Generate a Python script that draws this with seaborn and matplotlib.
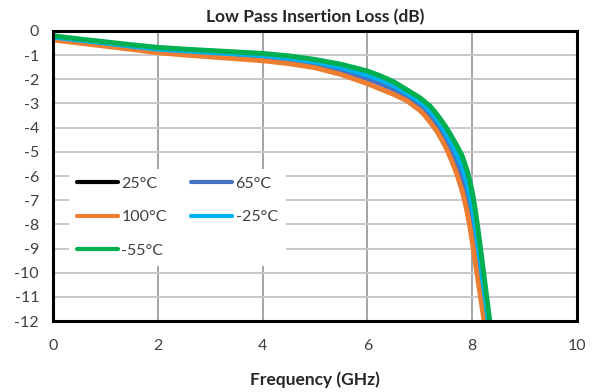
import matplotlib
matplotlib.use("Agg")
import matplotlib.pyplot as plt
import seaborn as sns
import pandas as pd

# Frequency points (GHz) shared by all temperature traces
freq_ghz = [0, 0.5, 1, 1.5, 2, 2.5, 3, 3.5, 4, 4.5, 5, 5.5, 6, 6.25, 6.5, 6.75,
            7.0, 7.1, 7.2, 7.3, 7.4, 7.5, 7.6, 7.7, 7.8, 7.85, 7.9, 7.95,
            8.0, 8.05, 8.1, 8.15, 8.2, 8.25, 8.3, 8.35, 8.4]

# Insertion loss (dB) per temperature
loss_25 = [-0.28, -0.41, -0.53, -0.66, -0.78, -0.86, -0.93, -1.00, -1.07, -1.17,
           -1.33, -1.57, -1.89, -2.10, -2.33, -2.63, -2.99, -3.19, -3.42, -3.69,
           -4.01, -4.36, -4.78, -5.24, -5.77, -6.12, -6.52, -7.00, -7.58, -8.24,
           -8.98, -9.76, -10.56, -11.35, -12.14, -12.93, -13.72]
loss_65 = [-0.30, -0.43, -0.56, -0.68, -0.81, -0.89, -0.97, -1.04, -1.11, -1.22,
           -1.38, -1.63, -1.97, -2.18, -2.41, -2.70, -3.07, -3.28, -3.52, -3.79,
           -4.12, -4.49, -4.93, -5.42, -5.98, -6.35, -6.77, -7.28, -7.88, -8.56,
           -9.30, -10.07, -10.84, -11.61, -12.38, -13.16, -13.93]
loss_100 = [-0.37, -0.50, -0.63, -0.76, -0.90, -0.99, -1.07, -1.15, -1.23, -1.35,
            -1.52, -1.80, -2.18, -2.40, -2.62, -2.88, -3.28, -3.50, -3.78, -4.06,
            -4.42, -4.83, -5.32, -5.88, -6.55, -6.97, -7.45, -8.02, -8.70, -9.42,
            -10.15, -10.88, -11.60, -12.32, -13.04, -13.76, -14.48]
loss_m25 = [-0.25, -0.38, -0.50, -0.63, -0.75, -0.82, -0.89, -0.95, -1.02, -1.13,
            -1.28, -1.51, -1.82, -2.02, -2.26, -2.57, -2.92, -3.11, -3.32, -3.58,
            -3.90, -4.24, -4.63, -5.07, -5.56, -5.89, -6.27, -6.72, -7.27, -7.92,
            -8.67, -9.46, -10.27, -11.08, -11.89, -12.70, -13.51]
loss_m55 = [-0.20, -0.33, -0.45, -0.57, -0.68, -0.75, -0.81, -0.87, -0.93, -1.03,
            -1.18, -1.38, -1.66, -1.86, -2.10, -2.43, -2.76, -2.94, -3.12, -3.38,
            -3.67, -3.98, -4.34, -4.72, -5.13, -5.43, -5.76, -6.16, -6.66, -7.28,
            -8.03, -8.85, -9.70, -10.55, -11.40, -12.25, -13.10]

temps = ["25°C", "65°C", "100°C", "-25°C", "-55°C"]
series = [loss_25, loss_65, loss_100, loss_m25, loss_m55]
colors = ["#000000", "#4472C4", "#ED7D31", "#00B0F0", "#00B050"]

x_ticks = [0, 2, 4, 6, 8, 10]
y_ticks = list(range(0, -13, -1))

frames = [pd.DataFrame({"Frequency": freq_ghz, "Loss": vals, "Temp": t})
          for t, vals in zip(temps, series)]
df = pd.concat(frames, ignore_index=True)

sns.set_style("white")
plt.rcParams["font.family"] = ["Lato", "DejaVu Sans"]

fig = plt.figure(figsize=(6.03, 3.92), dpi=100)
ax = fig.add_axes([0.0879, 0.181, 0.869, 0.740])

sns.lineplot(data=df, x="Frequency", y="Loss", hue="Temp", hue_order=temps,
             palette=dict(zip(temps, colors)), linewidth=3.6, estimator=None,
             errorbar=None, sort=True, ax=ax, legend=False)
for line in ax.get_lines():
    line.set_solid_joinstyle("round")
    line.set_solid_capstyle("round")

ax.set_xlim(0, 10)
ax.set_ylim(-12, 0)
ax.set_xticks(x_ticks)
ax.set_yticks(y_ticks)
ax.set_xticklabels([str(v) for v in x_ticks])
ax.set_yticklabels([str(v) for v in y_ticks])

# Gridlines: light horizontal, darker vertical
ax.yaxis.grid(True, color="#c8c8c8", linewidth=1.4)
ax.xaxis.grid(True, color="#8c8c8c", linewidth=1.1)
ax.set_axisbelow(True)

for side in ["left", "right", "top", "bottom"]:
    ax.spines[side].set_visible(True)
    ax.spines[side].set_color("black")
    ax.spines[side].set_linewidth(2.2)

ax.tick_params(axis="both", length=0, labelsize=11.5, colors="#404040")
ax.tick_params(axis="x", pad=13)
ax.tick_params(axis="y", pad=10)

ax.set_title("Low Pass Insertion Loss (dB)", fontsize=12.5, fontweight="bold",
             pad=6)
ax.set_xlabel("Frequency (GHz)", fontsize=12.5, fontweight="bold", labelpad=13)
ax.set_ylabel("")

# Legend filled row by row: 25, 65 / 100, -25 / -55
handles = {t: plt.Line2D([], [], color=c, linewidth=3.0) for t, c in zip(temps, colors)}
order = ["25°C", "100°C", "-55°C", "65°C", "-25°C"]
leg = ax.legend([handles[t] for t in order], order, ncol=2, loc="upper left",
                bbox_to_anchor=(0.03, 0.525), frameon=True, fancybox=False,
                framealpha=1.0, facecolor="white", edgecolor="none",
                fontsize=11.5, handlelength=2.6, handletextpad=0.2,
                labelspacing=1.2, columnspacing=1.5, borderpad=0.5,
                borderaxespad=0)
for txt in leg.get_texts():
    txt.set_color("#404040")

fig.savefig("out.png", dpi=100)
